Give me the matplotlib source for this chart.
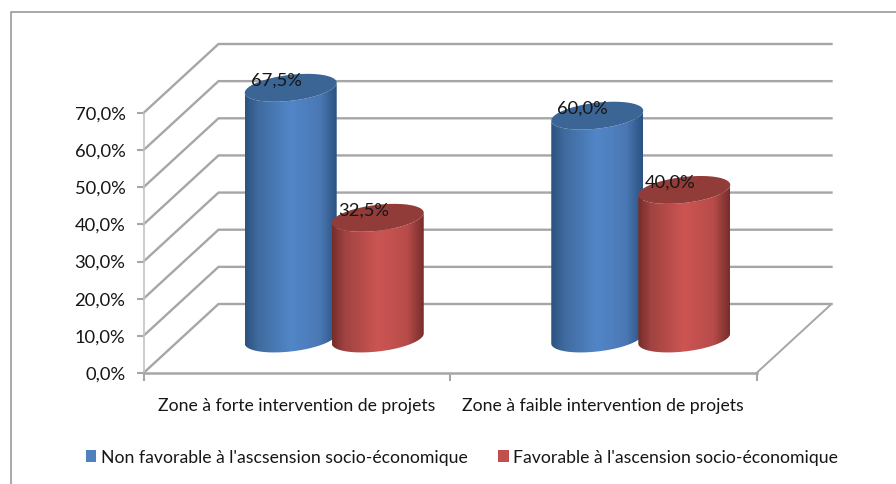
import numpy as np
import matplotlib
matplotlib.use("Agg")
import matplotlib.pyplot as plt
from matplotlib.path import Path
from matplotlib.patches import PathPatch, Rectangle
from matplotlib.colors import LinearSegmentedColormap

categories = ["Zone à forte intervention de projets", "Zone à faible intervention de projets"]
series_names = ["Non favorable à l'ascsension socio-économique", "Favorable à l'ascension socio-économique"]
non_favorable = [67.5, 60.0]
favorable = [32.5, 40.0]
y_ticks = [0, 10, 20, 30, 40, 50, 60, 70]

FONT = "Lato"
TXT = "#161616"
GRID = "#a6a6a6"

W, H = 896, 484
fig = plt.figure(figsize=(W / 100, H / 100), dpi=100, facecolor="white")
L, R, B, T = 143.5, 756.5, 373.0, 113.0
ax = fig.add_axes([L / W, 1 - B / H, (R - L) / W, (B - T) / H])
ax.set_xlim(0, 2)
ax.set_ylim(0, 70)
ax.patch.set_alpha(0)

DX = 75.0 / (R - L) * 2
DY = 69.0 / (B - T) * 70
HALF = 0.15
OFF = 0.142
C_TILT, C_B = 1.35, 3.5

ax.set_xticks([0, 1, 2], ["", "", ""])
ax.set_yticks(y_ticks, [f"{v:.1f}".replace(".", ",") + "%" for v in y_ticks],
              fontfamily=FONT, fontsize=13.2, color=TXT)
ax.tick_params(axis="y", length=5, color=GRID, width=1.5, pad=8)
ax.tick_params(axis="x", length=6, color=GRID, width=1.5)
for s in ("top", "right"):
    ax.spines[s].set_visible(False)
ax.spines["left"].set_color("#c4c4c4")
ax.spines["left"].set_linewidth(1.2)
ax.spines["bottom"].set_color(GRID)
ax.spines["bottom"].set_linewidth(1.8)

for v in y_ticks:
    ax.plot([0, DX, 2 + DX], [v, v + DY, v + DY], color=GRID, lw=1.7, clip_on=False, zorder=1,
            solid_joinstyle="miter")
ax.plot([2, 2 + DX], [0, DY], color=GRID, lw=1.4, clip_on=False, zorder=1)


def shade(light, mid, dark, edge):
    return LinearSegmentedColormap.from_list(
        "c", [(0, edge), (0.14, dark), (0.5, light), (0.82, mid), (1, edge)])


def cylinder(cx, value, light, mid, dark, edge, cap, z):
    cy0 = DY / 2
    t = np.linspace(0, np.pi, 60)
    ex = np.cos(t)
    bot_y = cy0 + C_TILT * ex - C_B * np.sin(t)
    xs_b = cx + HALF * ex
    xs_t = cx + HALF * ex[::-1]
    top_lower = cy0 + value + C_TILT * ex[::-1] - C_B * np.sin(t[::-1])
    verts = np.r_[np.c_[xs_b, bot_y], np.c_[xs_t, top_lower]]
    path = Path(np.r_[verts, verts[:1]], closed=True)
    im = ax.imshow(np.linspace(0, 1, 256)[None, :],
                   extent=[cx - HALF, cx + HALF, cy0 - 6, cy0 + value + 6],
                   cmap=shade(light, mid, dark, edge), aspect="auto", zorder=z)
    im.set_clip_path(PathPatch(path, transform=ax.transData))
    im.set_clip_box(fig.bbox)
    tt = np.linspace(0, 2 * np.pi, 120)
    ax.add_patch(plt.Polygon(np.c_[cx + HALF * np.cos(tt),
                                   cy0 + value + C_TILT * np.cos(tt) + C_B * np.sin(tt)],
                             closed=True, facecolor=cap, edgecolor="none", zorder=z + 0.1, clip_on=False))


BLUE = ("#5286c8", "#4a78b4", "#3f6a9e", "#2b5280", "#3b6595")
RED = ("#cc5552", "#b84c4a", "#a04341", "#752d2b", "#923c39")
for i in range(2):
    c = i + 0.5 + DX / 2
    cylinder(c - OFF, non_favorable[i], *BLUE, z=3 + i * 2)
    cylinder(c + OFF, favorable[i], *RED, z=4 + i * 2)
    for x, v in ((c - OFF, non_favorable[i]), (c + OFF, favorable[i])):
        ax.text(x - 0.047, DY / 2 + v + 1.9, f"{v:.1f}".replace(".", ",") + "%", ha="center", va="center",
                fontfamily=FONT, fontsize=13.2, color=TXT, zorder=10, clip_on=False)
ax.set_xlim(0, 2)
ax.set_ylim(0, 70)

for i, cat in enumerate(categories):
    ax.text(i + 0.5, -8.8, cat, ha="center", va="center", fontfamily=FONT, fontsize=12.7, color=TXT, clip_on=False)

fig.add_artist(plt.Line2D([10.5 / W, 10.5 / W, 1], [0, 1 - 12 / H, 1 - 12 / H],
                          color="#9a9a9a", lw=1.2, transform=fig.transFigure))
handles = [Rectangle((0, 0), 1, 1, fc="#4f81bd"), Rectangle((0, 0), 1, 1, fc="#c0504d")]
fig.legend(handles, series_names, loc="center", bbox_to_anchor=(462 / W, 1 - 457.5 / H), ncol=2, frameon=False,
           prop={"family": FONT, "size": 12.7}, labelcolor=TXT, handlelength=0.6, handleheight=0.65,
           handletextpad=0.28, columnspacing=1.7)
fig.savefig("out.png", dpi=100, facecolor="white")
